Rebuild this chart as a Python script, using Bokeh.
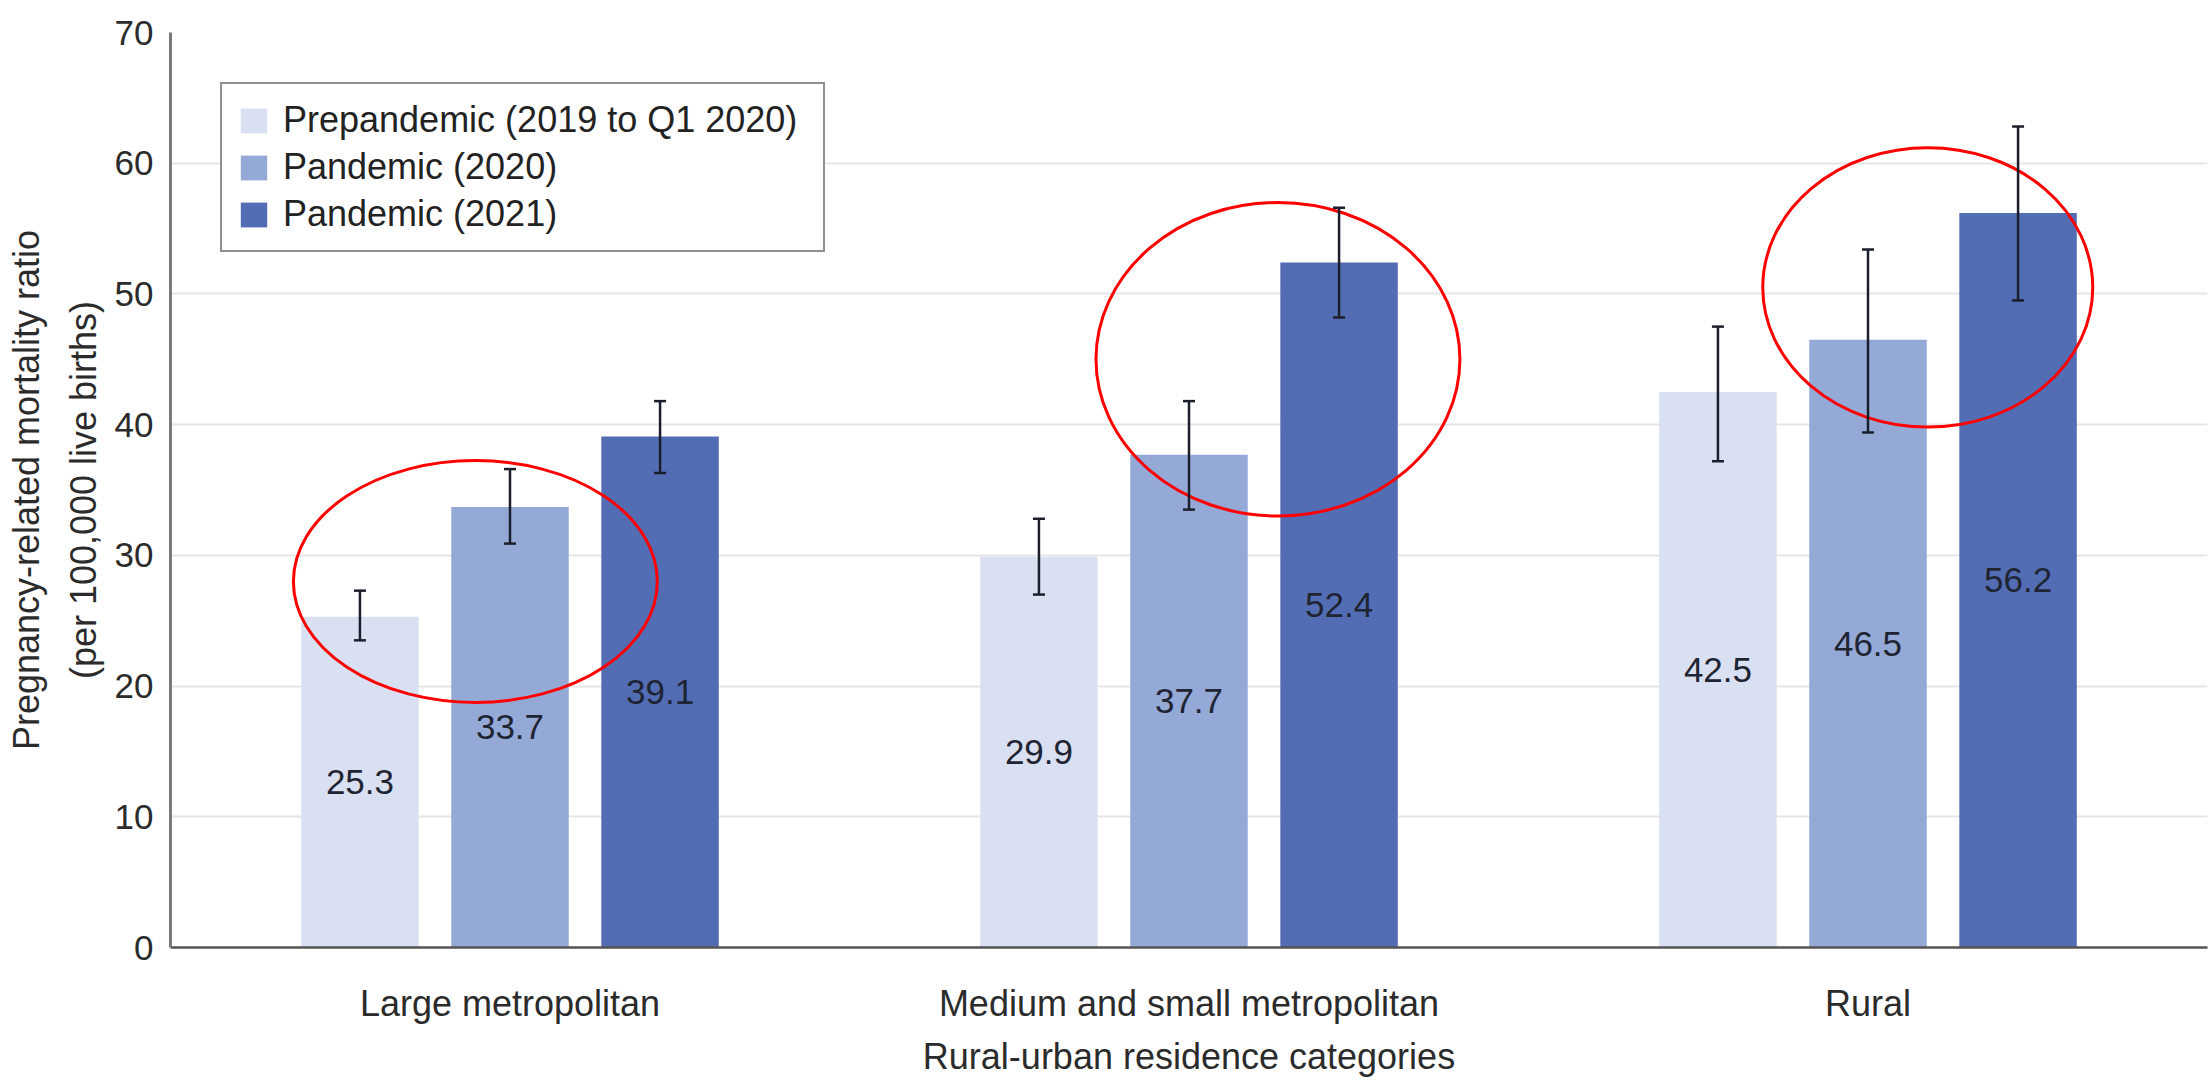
from bokeh.plotting import figure
from bokeh.models import ColumnDataSource, Range1d, Whisker, TeeHead, FixedTicker
from bokeh.core.properties import value
from bokeh.embed import file_html
from bokeh.resources import INLINE

# ---------------- data ----------------
categories = ["Large metropolitan", "Medium and small metropolitan", "Rural"]
series_names = ["Prepandemic (2019 to Q1 2020)", "Pandemic (2020)", "Pandemic (2021)"]

prepandemic = [25.3, 29.9, 42.5]
pandemic_2020 = [33.7, 37.7, 46.5]
pandemic_2021 = [39.1, 52.4, 56.2]

prepandemic_lower = [23.5, 27.0, 37.2]
prepandemic_upper = [27.3, 32.8, 47.5]
pandemic_2020_lower = [30.9, 33.5, 39.4]
pandemic_2020_upper = [36.6, 41.8, 53.4]
pandemic_2021_lower = [36.3, 48.2, 49.5]
pandemic_2021_upper = [41.8, 56.6, 62.8]

y_ticks = [0, 10, 20, 30, 40, 50, 60, 70]

# red highlight ellipses (annotations drawn on the picture), x in category units
highlight_x = [0.449, 1.631, 2.588]
highlight_y = [28.0, 45.0, 50.5]
highlight_w = [0.536, 0.536, 0.486]
highlight_h = [18.5, 24.0, 21.4]

# ---------------- styling ----------------
colors = ["#D9E0F1", "#95A9D7", "#536DB4"]
offsets = [-0.221, 0.0, 0.221]
bar_width = 0.173
FONT = "Liberation Sans"

centers = [i + 0.5 for i in range(len(categories))]

p = figure(
    x_range=Range1d(0, len(categories)),
    y_range=Range1d(0, 70),
    width=2211, height=1081,
    output_backend="svg", toolbar_location=None,
    min_border_left=170, min_border_right=4,
    min_border_top=32, min_border_bottom=134,
    background_fill_color="white", border_fill_color="white",
)
p.outline_line_color = None
p.xgrid.visible = False
p.ygrid.grid_line_color = "#e6e6e6"
p.ygrid.grid_line_width = 2
p.yaxis.ticker = FixedTicker(ticks=y_ticks)
p.xaxis.ticker = FixedTicker(ticks=centers)
p.xaxis.major_label_overrides = {c: cat for c, cat in zip(centers, categories)}

for ax in (p.xaxis[0], p.yaxis[0]):
    ax.major_tick_line_color = None
    ax.minor_tick_line_color = None
    ax.major_tick_out = 0
    ax.major_tick_in = 0
    ax.minor_tick_out = 0
    ax.minor_tick_in = 0
    ax.major_label_text_font = FONT
    ax.major_label_text_font_size = "35px"
    ax.major_label_text_color = "#2b2b2b"
    ax.axis_label_text_font = FONT
    ax.axis_label_text_font_size = "35px"
    ax.axis_label_text_font_style = "normal"
    ax.axis_label_text_color = "#2b2b2b"

p.yaxis.axis_line_color = "#7a7a7a"
p.yaxis.axis_line_width = 3
p.yaxis.major_label_standoff = 17
p.yaxis.axis_label = "Pregnancy-related mortality ratio\n(per 100,000 live births)"
p.yaxis.axis_label_text_font_size = "36px"
p.yaxis.axis_label_text_line_height = 1.38
p.yaxis.axis_label_standoff = 8

p.xaxis.axis_line_color = "#555555"
p.xaxis.axis_line_width = 2.5
p.xaxis.major_label_text_font_size = "36px"
p.xaxis.major_label_standoff = 35
p.xaxis.axis_label = "Rural-urban residence categories"
p.xaxis.axis_label_text_font_size = "36px"
p.xaxis.axis_label_standoff = 9

series_values = [prepandemic, pandemic_2020, pandemic_2021]
series_lower = [prepandemic_lower, pandemic_2020_lower, pandemic_2021_lower]
series_upper = [prepandemic_upper, pandemic_2020_upper, pandemic_2021_upper]

sources = []
for name, vals, lo, hi, col, off in zip(series_names, series_values, series_lower,
                                         series_upper, colors, offsets):
    src = ColumnDataSource(dict(
        x=[c + off for c in centers], val=vals, lower=lo, upper=hi,
        mid=[v / 2 for v in vals], label=[f"{v:.1f}" for v in vals],
    ))
    sources.append(src)
    p.vbar(x="x", top="val", width=bar_width,
           source=src, fill_color=col, line_color=None, legend_label=name)

for src in sources:
    p.text(x="x", y="mid", text="label", source=src,
           text_align="center", text_baseline="middle",
           text_font=value(FONT), text_font_size="35px", text_color="#1f2433")
    w = Whisker(base="x", upper="upper", lower="lower",
                source=src, line_color="#1b1f2b", line_width=2.5, level="overlay",
                upper_head=TeeHead(size=12, line_color="#1b1f2b", line_width=2.5),
                lower_head=TeeHead(size=12, line_color="#1b1f2b", line_width=2.5))
    p.add_layout(w)

p.ellipse(x=highlight_x, y=highlight_y, width=highlight_w, height=highlight_h,
          fill_color=None, line_color="#ff0000", line_width=3)

lg = p.legend[0]
lg.location = "top_left"
lg.margin = 50
lg.padding = 15
lg.spacing = 5
lg.glyph_width = 33
lg.glyph_height = 31
lg.label_height = 40
lg.label_width = 525
lg.label_standoff = 13
lg.label_text_font = FONT
lg.label_text_font_size = "36px"
lg.label_text_color = "#222222"
lg.border_line_color = "#222222"
lg.border_line_width = 2.5
lg.background_fill_color = "white"
lg.background_fill_alpha = 1.0

open("out.html", "w").write(file_html(p, INLINE))
